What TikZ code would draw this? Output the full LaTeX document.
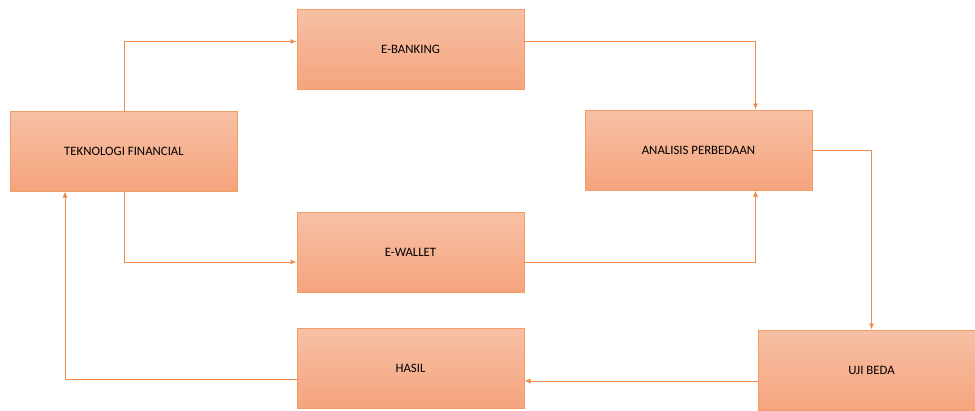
\documentclass[tikz,border=0pt]{standalone}
\usepackage{fontspec}
\setmainfont{Carlito}
\usetikzlibrary{arrows.meta}

\definecolor{boxtop}{HTML}{F7C0A5}
\definecolor{boxbot}{HTML}{F5A47D}
\definecolor{boxline}{HTML}{F39C66}
\definecolor{arrline}{HTML}{F18B4C}

\tikzset{
  stepbox/.style={rectangle, draw=boxline, line width=1pt, top color=boxtop, bottom color=boxbot,
    minimum width=227pt, minimum height=80pt, inner sep=0pt, font=\fontsize{12.8}{14}\selectfont},
  flow/.style={draw=arrline, line width=0.9pt, -{Latex[length=6pt,width=5pt]}}
}

\begin{document}
\begin{tikzpicture}[x=1pt,y=-1pt]
\useasboundingbox (0,0) rectangle (975,410);

\node [stepbox] (tekno) at (124,151) {TEKNOLOGI FINANCIAL};
\node [stepbox] (ebank) at (410.5,49.5) {E-BANKING};
\node [stepbox] (ewal) at (410.5,252.5) {E-WALLET};
\node [stepbox] (hasil) at (410.5,368.5) {HASIL};
\node [stepbox] (anal) at (698.5,150) {ANALISIS PERBEDAAN};
\node [stepbox] (uji) at (871.5,370) {UJI BEDA};

% alur
\draw [flow] (tekno.north) |- ([yshift=8pt]ebank.west);
\draw [flow] (tekno.south) |- ([yshift=-9.5pt]ewal.west);
\draw [flow] ([yshift=8pt]ebank.east) -| ([xshift=57pt]anal.north);
\draw [flow] ([yshift=-9.5pt]ewal.east) -| ([xshift=57pt]anal.south);
\draw [flow] (anal.east) -| (uji.north);
\draw [flow] ([yshift=-11pt]uji.west) -- ([yshift=-11pt]uji.west -| hasil.east);
\draw [flow] ([yshift=-11pt]hasil.west) -| ([xshift=-59pt]tekno.south);

\end{tikzpicture}
\end{document}
